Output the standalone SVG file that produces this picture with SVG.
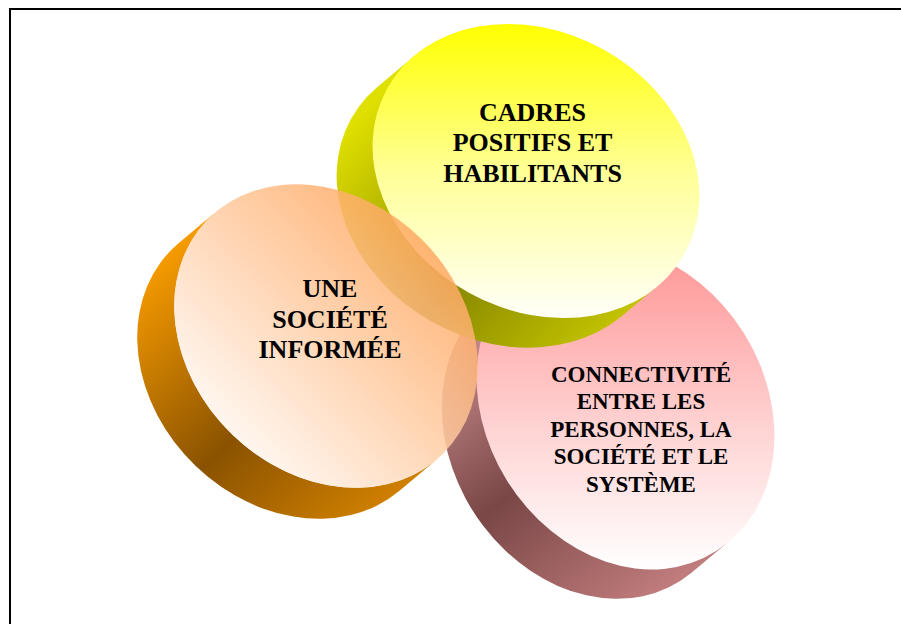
<svg xmlns="http://www.w3.org/2000/svg" width="901" height="624" viewBox="0 0 901 624">
  <defs>
    <style>
      .label { font-family: "Liberation Serif", "Times New Roman", serif; font-weight: bold; fill: #000; text-anchor: middle; }
      .frame { fill: none; stroke: #000; stroke-width: 2; }
    </style>
    <!-- pink disk -->
    <linearGradient id="pinkFace" gradientUnits="userSpaceOnUse" x1="0" y1="250" x2="0" y2="570">
      <stop offset="0" stop-color="#ff9696"/>
      <stop offset="0.55" stop-color="#ffd2d2"/>
      <stop offset="1" stop-color="#ffffff"/>
    </linearGradient>
    <linearGradient id="pinkSide" gradientUnits="userSpaceOnUse" x1="523" y1="272" x2="728" y2="542">
      <stop offset="0" stop-color="#d09494"/>
      <stop offset="0.5" stop-color="#7a4646"/>
      <stop offset="1" stop-color="#c07c7c"/>
    </linearGradient>
    <!-- yellow disk -->
    <linearGradient id="yellowFace" gradientUnits="userSpaceOnUse" x1="0" y1="25" x2="0" y2="317">
      <stop offset="0" stop-color="#ffff00"/>
      <stop offset="0.5" stop-color="#ffff96"/>
      <stop offset="1" stop-color="#fffff8"/>
    </linearGradient>
    <linearGradient id="yellowSide" gradientUnits="userSpaceOnUse" x1="414" y1="56" x2="658" y2="286">
      <stop offset="0" stop-color="#e0e000"/>
      <stop offset="0.55" stop-color="#888800"/>
      <stop offset="1" stop-color="#c4c400"/>
    </linearGradient>
    <!-- orange disk -->
    <linearGradient id="orangeFace" gradientUnits="userSpaceOnUse" x1="440" y1="225" x2="215" y2="445">
      <stop offset="0" stop-color="#ffa256"/>
      <stop offset="1" stop-color="#fffaf6"/>
    </linearGradient>
    <linearGradient id="orangeSide" gradientUnits="userSpaceOnUse" x1="216" y1="212" x2="436" y2="460">
      <stop offset="0" stop-color="#f59a00"/>
      <stop offset="0.55" stop-color="#8a5200"/>
      <stop offset="1" stop-color="#d08000"/>
    </linearGradient>
  </defs>

  <rect width="901" height="624" fill="#ffffff"/>

  <g id="frame">
    <path class="frame" d="M10,624 V9 H901"/>
  </g>

  <!-- disk: connectivité (face ellipse rx 170, ry 138, tilted 58deg; depth offset -37,+31) -->
  <g id="node-connectivite">
    <path fill="url(#pinkSide)" d="M522.8,272 L485.8,303 A170,138 58 0 0 691.2,573 L728.2,542 A170,138 58 0 1 522.8,272 Z"/>
    <path d="M715.58,551.16 A170,138 58 1 1 535.42,262.84 A170,138 58 1 1 715.58,551.16 Z" fill="url(#pinkFace)"/>
    <text class="label" font-size="23" x="641" y="381.5">CONNECTIVITÉ</text>
    <text class="label" font-size="23" x="641" y="409">ENTRE LES</text>
    <text class="label" font-size="23" x="641" y="436.5">PERSONNES, LA</text>
    <text class="label" font-size="23" x="641" y="464">SOCIÉTÉ ET LE</text>
    <text class="label" font-size="23" x="641" y="491.5">SYSTÈME</text>
  </g>

  <!-- disk: cadres (tilted 29.1deg) -->
  <g id="node-cadres">
    <path fill="url(#yellowSide)" d="M414.04,56.29 L377.04,87.29 A170,138 29.1 0 0 620.96,316.71 L657.96,285.71 A170,138 29.1 0 1 414.04,56.29 Z"/>
    <path d="M684.54,253.67 A170,138 29.1 1 1 387.46,88.33 A170,138 29.1 1 1 684.54,253.67 Z" fill="url(#yellowFace)"/>
    <text class="label" font-size="26" x="532.5" y="120.5">CADRES</text>
    <text class="label" font-size="26" x="532.5" y="151.3">POSITIFS ET</text>
    <text class="label" font-size="26" x="532.5" y="182.2">HABILITANTS</text>
  </g>

  <!-- disk: société informée (tilted 45deg, face slightly see-through) -->
  <g id="node-societe">
    <path fill="url(#orangeSide)" d="M215.8,212 L178.8,243 A166,136 45 0 0 399.2,491 L436.2,460 A166,136 45 0 1 215.8,212 Z"/>
    <path d="M443.38,453.38 A166,136 45 1 1 208.62,218.62 A166,136 45 1 1 443.38,453.38 Z" fill="url(#orangeFace)" opacity="0.85"/>
    <text class="label" font-size="26" x="330" y="297.3">UNE</text>
    <text class="label" font-size="26" x="330" y="327.6">SOCIÉTÉ</text>
    <text class="label" font-size="26" x="330" y="357.8">INFORMÉE</text>
  </g>
</svg>
